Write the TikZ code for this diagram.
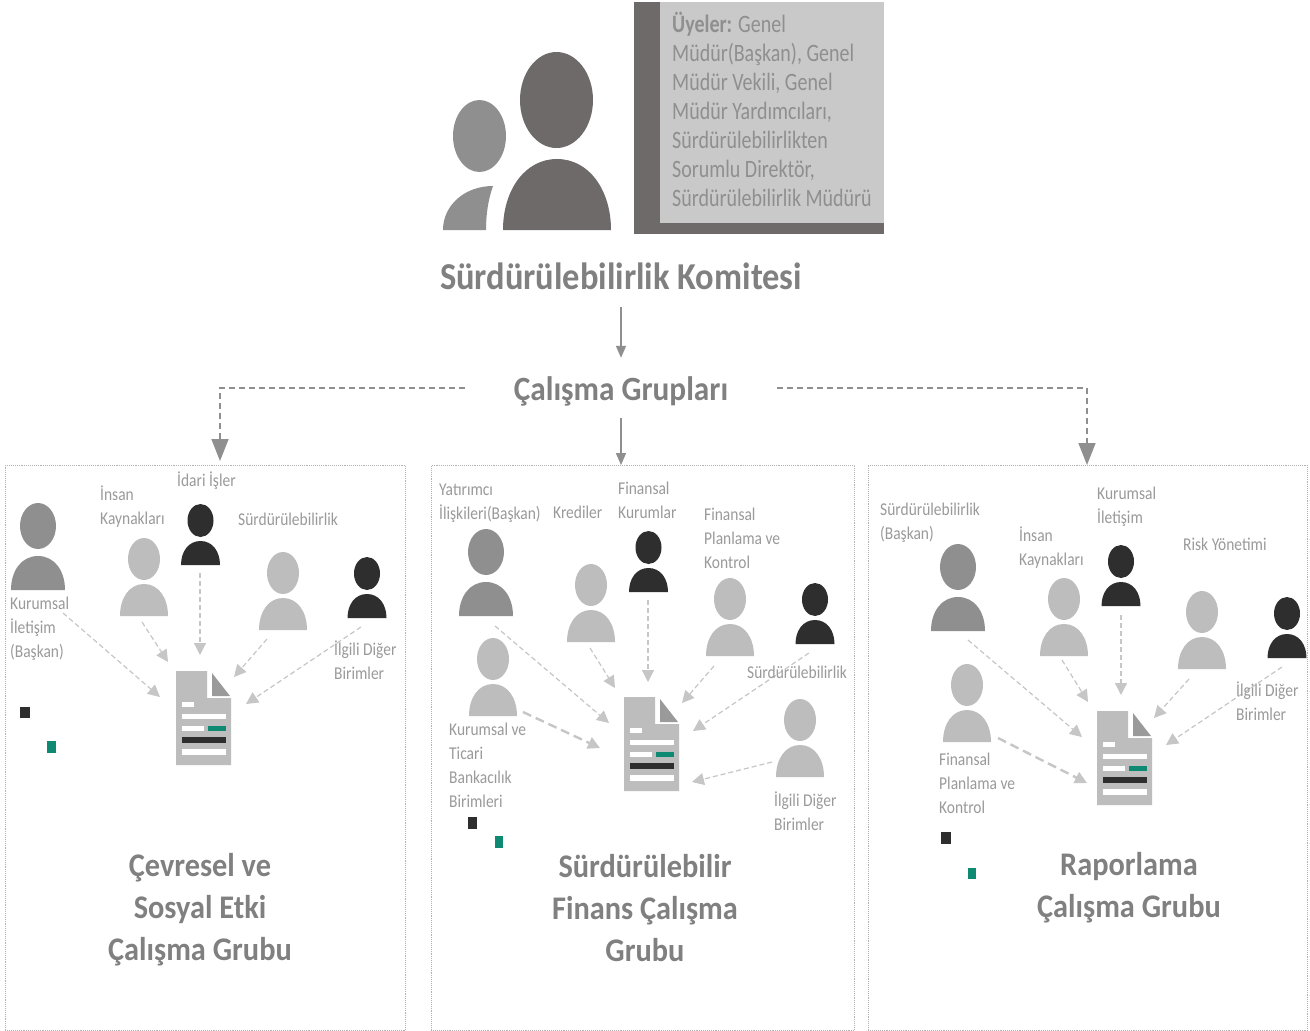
\documentclass[tikz,border=0pt]{standalone}
\usepackage{fontspec}
\setmainfont{Carlito}
\newfontfamily\narrowbox[FakeStretch=0.80]{Carlito}
\newfontfamily\narrowlabel[FakeStretch=0.86]{Carlito}
\newfontfamily\narrowtitle[FakeStretch=0.92]{Carlito}
\newfontfamily\narrowhead[FakeStretch=0.907]{Carlito}
\usetikzlibrary{arrows.meta}
\definecolor{cdark}{HTML}{6E6A6A}
\definecolor{cmid}{HTML}{8F8F8F}
\definecolor{clight}{HTML}{BDBDBD}
\definecolor{cblack}{HTML}{2E2E2E}
\definecolor{cgreen}{HTML}{0F8A72}
\definecolor{cbox}{HTML}{C9C9C9}
\definecolor{ctext}{HTML}{9A9A9A}
\definecolor{ctitle}{HTML}{808080}
\definecolor{cflow}{HTML}{C6C6C6}
\tikzset{
  smalllabel/.style={anchor=north west,inner sep=0pt,align=left,text=ctext,font=\narrowlabel\fontsize{18}{24}\selectfont},
  paneltitle/.style={anchor=center,inner sep=0pt,align=center,text=ctitle,font=\narrowtitle\fontsize{33}{42}\selectfont\bfseries},
  panelbox/.style={draw=black!30,densely dotted,line width=0.9pt,inner sep=0pt,anchor=north west},
  flowarrow/.style={draw=cflow,line width=1.2pt,dash pattern=on 5pt off 3pt,-{Triangle[width=12pt,length=12pt]}},
  flowthick/.style={flowarrow,line width=2.4pt,dash pattern=on 9pt off 5pt,-{Triangle[width=12pt,length=12pt]}},
  mainflow/.style={draw=cmid,line width=1.6pt,-{Triangle[width=10pt,length=12pt]}},
  maindash/.style={draw=cmid,line width=1.6pt,dash pattern=on 6pt off 4pt,-{Triangle[width=17pt,length=22pt]}},
  headline/.style={inner sep=0pt,text=ctitle},
}
\newcommand\personat[8]{%
  \begin{scope}[shift={(#1,#2)}]
    \fill[#8] (0,{#4/2}) ellipse [x radius=#3,y radius={#4/2}];
    \fill[#8] (-#7,#6) .. controls (-#7,{#6-0.58*(#6-#5)}) and ({-0.6*#7},#5) .. (0,#5)
      .. controls ({0.6*#7},#5) and (#7,{#6-0.58*(#6-#5)}) .. (#7,#6) -- cycle;
  \end{scope}}
\newcommand\pgray[2]{\personat{#1}{#2}{18}{46}{53}{87}{27}{cmid}}
\newcommand\plight[2]{\personat{#1}{#2}{16}{42}{46}{78}{24}{clight}}
\newcommand\pdark[2]{\personat{#1}{#2}{13}{33}{37}{61}{19.5}{cblack}}
\newcommand\docicon[2]{%
  \begin{scope}[shift={(#1,#2)}]
    \fill[clight] (0,0) -- (31,0) -- (31,27) -- (55,27) -- (55,94) -- (0,94) -- cycle;
    \fill[cmid!90] (36,2) -- (54,25) -- (36,25) -- cycle;
    \fill[white] (6,31) rectangle (18,36);
    \fill[white] (6,43) rectangle (50,48);
    \fill[white] (6,55) rectangle (28,60);
    \fill[cgreen] (32,55) rectangle (50,60);
    \fill[cblack] (6,66) rectangle (50,72);
    \fill[white] (6,78) rectangle (50,84);
  \end{scope}}
\newcommand\flow[5][flowarrow]{%
  \coordinate (#2s) at (#3);
  \coordinate (#2e) at (#4);
  \draw[#1] (#2s) -- (#2e);}
\begin{document}
\begin{tikzpicture}[x=1pt,y=-1pt]
\useasboundingbox (0,0) rectangle (1310,1031);
\fill[white] (0,0) rectangle (1310,1031);

% top group
\fill[cmid] (479.5,136) ellipse [x radius=26.5,y radius=36];
\fill[cmid] (443,230) .. controls (443,205) and (465,186) .. (493,186)
  .. controls (488,200) and (486,215) .. (486,230) -- cycle;
\fill[cdark] (556.5,100) ellipse [x radius=36.5,y radius=48];
\fill[cdark] (503,230) .. controls (503,190) and (525,159) .. (557,159)
  .. controls (589,159) and (611,190) .. (611,230) -- cycle;
\fill[cdark] (634,2) rectangle (884,234);
\fill[cbox] (660,2) rectangle (884,223);
\node[anchor=north west,inner sep=0pt,align=left,text=cmid,font=\narrowbox\fontsize{25}{29}\selectfont] (uyeler) at (672,12)
  {\textbf{Üyeler:} Genel\\Müdür(Başkan), Genel\\Müdür Vekili, Genel\\Müdür Yardımcıları,\\Sürdürülebilirlikten\\Sorumlu Direktör,\\Sürdürülebilirlik Müdürü};

\node[headline,font=\narrowhead\fontsize{38}{44}\selectfont\bfseries,minimum height=62pt] (kom) at (621,276) {Sürdürülebilirlik Komitesi};
\node[headline,font=\narrowtitle\fontsize{34}{40}\selectfont\bfseries,minimum width=312pt,minimum height=60pt] (cg) at (621,388) {\raisebox{-12.5pt}[0pt][0pt]{Çalışma Grupları}};

% panels
\node[panelbox,minimum width=400pt,minimum height=565pt] (p1) at (5,465) {};
\node[panelbox,minimum width=423pt,minimum height=565pt] (p2) at (431,465) {};
\node[panelbox,minimum width=439pt,minimum height=565pt] (p3) at (868,465) {};

% main connectors
\coordinate (p1in) at (220,461);
\coordinate (p3in) at (1087,465);
\draw[mainflow] (kom.south) -- (cg.north);
\draw[mainflow] (cg.south) -- (cg.south |- p2.north);
\draw[maindash] (cg.west) -| (p1in);
\draw[maindash] (cg.east) -| (p3in);

% panel 1
\pgray{38}{503}
\plight{144}{538}
\pdark{200.5}{504}
\plight{283}{552}
\pdark{367}{557}
\docicon{176}{671}
\flow{a1}{63,613}{160,697}{}
\flow{a2}{142,622}{168,662}{}
\flow{a3}{200,573}{200,655}{}
\flow{a4}{267,639}{234,677}{}
\flow{a5}{361,627}{246,704}{}
\fill[cblack] (20,707) rectangle (30,718);
\fill[cgreen] (47,741) rectangle (56,753);
\node[smalllabel] (l11) at (177,472) {İdari İşler};
\node[smalllabel] (l12) at (100,486) {İnsan\\Kaynakları};
\node[smalllabel] (l13) at (238,512.5) {Sürdürülebilirlik};
\node[smalllabel] (l14) at (10,597) {Kurumsal\\İletişim\\(Başkan)};
\node[smalllabel] (l15) at (334,641) {İlgili Diğer\\Birimler};
\node[paneltitle] (t1) at (200,910) {Çevresel ve\\Sosyal Etki\\Çalışma Grubu};

% panel 2
\pgray{486}{529}
\plight{591}{564}
\pdark{648.5}{531}
\plight{730}{578}
\pdark{815}{583}
\plight{493}{638}
\plight{800}{699}
\docicon{624}{697}
\flow{b1}{495,626}{609,723}{}
\flow{b2}{590,648}{615,688}{}
\flow{b3}{648,600}{648,682}{}
\flow{b4}{714,666}{682,703}{}
\flow{b5}{809,653}{693,731}{}
\flow[flowthick]{b6}{523,712}{600,748}{}
\flow{b7}{772,762}{692,782}{}
\fill[cblack] (468,817) rectangle (477,829);
\fill[cgreen] (495,836) rectangle (503,848);
\node[smalllabel] (l21) at (439,484) {Yatırımcı\\İlişkileri(Başkan)};
\node[smalllabel] (l22) at (553,506) {Krediler};
\node[smalllabel] (l23) at (618,482) {Finansal\\Kurumlar};
\node[smalllabel] (l24) at (704,508) {Finansal\\Planlama ve\\Kontrol};
\node[smalllabel] (l25) at (747,666) {Sürdürülebilirlik};
\node[smalllabel] (l26) at (449,723) {Kurumsal ve\\Ticari\\Bankacılık\\Birimleri};
\node[smalllabel] (l27) at (774,792) {İlgili Diğer\\Birimler};
\node[paneltitle] (t2) at (645,908.5) {Sürdürülebilir\\Finans Çalışma\\Grubu};

% panel 3
\pgray{958}{544}
\plight{1064}{578}
\pdark{1121}{545}
\plight{1202}{591}
\pdark{1287}{597}
\plight{967}{664}
\docicon{1097}{711}
\flow{c1}{968,640}{1082,737}{}
\flow{c2}{1062,660}{1088,702}{}
\flow{c3}{1121,615}{1121,695}{}
\flow{c4}{1189,679}{1154,718}{}
\flow{c5}{1282,667}{1166,745}{}
\flow[flowthick]{c6}{998,738}{1087,783}{}
\fill[cblack] (941,832) rectangle (951,844);
\fill[cgreen] (968,868) rectangle (976,879);
\node[smalllabel] (l31) at (880,503) {Sürdürülebilirlik\\(Başkan)};
\node[smalllabel] (l32) at (1019,527) {İnsan\\Kaynakları};
\node[smalllabel] (l33) at (1097,487) {Kurumsal\\İletişim};
\node[smalllabel] (l34) at (1183,538) {Risk Yönetimi};
\node[smalllabel] (l35) at (1236,682) {İlgili Diğer\\Birimler};
\node[smalllabel] (l36) at (939,753) {Finansal\\Planlama ve\\Kontrol};
\node[paneltitle] (t3) at (1129,888) {Raporlama\\Çalışma Grubu};
\end{tikzpicture}
\end{document}
